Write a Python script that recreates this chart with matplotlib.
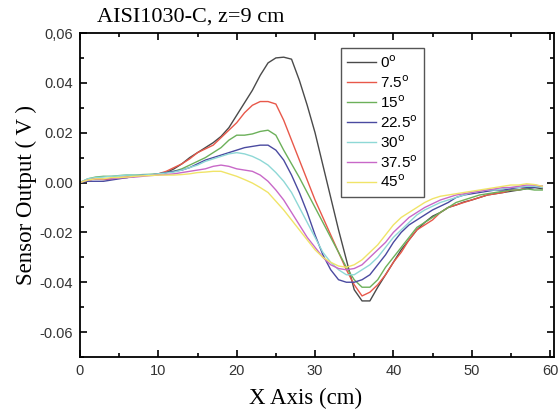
import numpy as np
import matplotlib
matplotlib.use("Agg")
import matplotlib.pyplot as plt
from matplotlib.ticker import MultipleLocator, FixedLocator, FixedFormatter

x_cm = list(range(60))

s0 = [0, 0.001, 0.0015, 0.0015, 0.0015, 0.002, 0.002, 0.0025, 0.003, 0.003,
      0.0032, 0.004, 0.0055, 0.0075, 0.010, 0.012, 0.014, 0.016, 0.0185, 0.022,
      0.027, 0.032, 0.037, 0.043, 0.048, 0.050, 0.0503, 0.0495, 0.041, 0.031,
      0.020, 0.007, -0.006, -0.019, -0.031, -0.043, -0.0475, -0.0475, -0.042, -0.037,
      -0.032, -0.027, -0.023, -0.019, -0.016, -0.0135, -0.012, -0.010, -0.009, -0.0078,
      -0.007, -0.006, -0.005, -0.0045, -0.004, -0.0035, -0.003, -0.0025, -0.002, -0.0025]
s75 = [0, 0.001, 0.0015, 0.0012, 0.0015, 0.002, 0.0022, 0.0025, 0.003, 0.003,
       0.0035, 0.0045, 0.006, 0.0075, 0.0095, 0.012, 0.0135, 0.015, 0.018, 0.021,
       0.024, 0.028, 0.031, 0.0325, 0.0325, 0.0315, 0.025, 0.017, 0.009, 0.001,
       -0.007, -0.014, -0.021, -0.028, -0.035, -0.041, -0.0455, -0.044, -0.041, -0.037,
       -0.032, -0.028, -0.023, -0.019, -0.017, -0.015, -0.012, -0.010, -0.009, -0.008,
       -0.007, -0.006, -0.005, -0.0045, -0.004, -0.003, -0.003, -0.002, -0.0015, -0.002]
s15 = [0, 0.0015, 0.0022, 0.0025, 0.0025, 0.0028, 0.003, 0.003, 0.0032, 0.0033,
       0.0035, 0.004, 0.0045, 0.0055, 0.007, 0.0085, 0.010, 0.012, 0.014, 0.017,
       0.019, 0.019, 0.0195, 0.0205, 0.021, 0.019, 0.013, 0.0075, 0.002, -0.004,
       -0.010, -0.016, -0.022, -0.028, -0.034, -0.039, -0.042, -0.042, -0.039, -0.034,
       -0.030, -0.026, -0.022, -0.018, -0.016, -0.014, -0.012, -0.010, -0.008, -0.007,
       -0.006, -0.005, -0.0045, -0.004, -0.0035, -0.003, -0.003, -0.0025, -0.003, -0.003]
s225 = [0, 0.0005, 0.0005, 0.0005, 0.001, 0.0015, 0.002, 0.0025, 0.003, 0.003,
        0.0035, 0.004, 0.0045, 0.005, 0.006, 0.0075, 0.009, 0.010, 0.011, 0.012,
        0.013, 0.014, 0.0145, 0.015, 0.015, 0.013, 0.009, 0.003, -0.004, -0.012,
        -0.021, -0.029, -0.035, -0.039, -0.040, -0.040, -0.039, -0.037, -0.033, -0.029,
        -0.024, -0.020, -0.017, -0.015, -0.013, -0.011, -0.0095, -0.008, -0.006, -0.005,
        -0.0045, -0.004, -0.0035, -0.003, -0.003, -0.0025, -0.002, -0.002, -0.002, -0.0015]
s30 = [0, 0.0015, 0.002, 0.0022, 0.0025, 0.0027, 0.003, 0.003, 0.003, 0.0032,
       0.0035, 0.0038, 0.0042, 0.005, 0.006, 0.007, 0.0085, 0.0095, 0.0105, 0.0115,
       0.012, 0.0115, 0.0105, 0.009, 0.007, 0.004, 0.0005, -0.004, -0.010, -0.016,
       -0.022, -0.028, -0.032, -0.035, -0.037, -0.037, -0.035, -0.033, -0.030, -0.026,
       -0.022, -0.019, -0.016, -0.013, -0.011, -0.0095, -0.008, -0.007, -0.006, -0.005,
       -0.004, -0.0035, -0.003, -0.003, -0.0025, -0.002, -0.002, -0.0015, -0.0015, -0.002]
s375 = [0, 0.001, 0.0015, 0.0015, 0.0015, 0.0018, 0.002, 0.0022, 0.0025, 0.0028,
        0.003, 0.0032, 0.0035, 0.004, 0.0045, 0.005, 0.0055, 0.0065, 0.007, 0.0065,
        0.0055, 0.005, 0.0045, 0.003, 0.0005, -0.003, -0.007, -0.012, -0.017, -0.022,
        -0.026, -0.030, -0.033, -0.0345, -0.035, -0.0345, -0.033, -0.030, -0.027, -0.024,
        -0.020, -0.017, -0.014, -0.012, -0.010, -0.0085, -0.007, -0.006, -0.005, -0.0045,
        -0.004, -0.0035, -0.003, -0.0025, -0.002, -0.002, -0.0015, -0.001, -0.001, -0.0015]
s45 = [0, 0.001, 0.0015, 0.0015, 0.002, 0.002, 0.0022, 0.0025, 0.0027, 0.0028,
       0.003, 0.003, 0.003, 0.0032, 0.0035, 0.004, 0.0042, 0.0045, 0.0045, 0.0035,
       0.0025, 0.0012, -0.0002, -0.002, -0.004, -0.0075, -0.011, -0.015, -0.019, -0.023,
       -0.027, -0.030, -0.032, -0.0335, -0.034, -0.033, -0.031, -0.028, -0.025, -0.021,
       -0.017, -0.014, -0.012, -0.010, -0.008, -0.0065, -0.0055, -0.005, -0.0045, -0.004,
       -0.0035, -0.003, -0.0025, -0.002, -0.0015, -0.001, -0.001, -0.0005, -0.0008, -0.0015]

labels = [r"0$^{\rm o}$", r"7.5$^{\rm o}$", r"15$^{\rm o}$", r"22.5$^{\rm o}$",
          r"30$^{\rm o}$", r"37.5$^{\rm o}$", r"45$^{\rm o}$"]
series = [s0, s75, s15, s225, s30, s375, s45]
colors = ["#4a4a4a", "#e8584a", "#6cb05a", "#4a4aa0", "#8ed8d6", "#c868c8", "#f0e468"]

ytick_vals = [-0.06, -0.04, -0.02, 0.0, 0.02, 0.04, 0.06]
ytick_labels = ["-0.06", "-0.04", "-0.02", "0.00", "0.02", "0.04", "0,06"]

fig = plt.figure(figsize=(5.6, 4.15), dpi=100)
ax = fig.add_axes([80/560, 1-357/415, 474/560, 324/415])

for ys, c, lab in zip(series, colors, labels):
    ax.plot(x_cm, ys, color=c, lw=1.0, label=lab)

ax.set_xlim(0, 60.5)
ax.set_ylim(-0.07, 0.06)
ax.xaxis.set_major_locator(MultipleLocator(10))
ax.xaxis.set_minor_locator(MultipleLocator(5))
ax.yaxis.set_major_locator(FixedLocator(ytick_vals))
ax.yaxis.set_major_formatter(FixedFormatter(ytick_labels))
ax.yaxis.set_minor_locator(MultipleLocator(0.01))
ax.tick_params(which='both', direction='in', top=True, right=True, width=1.2)
ax.tick_params(which='major', length=5, labelsize=10.5, pad=5)
ax.tick_params(which='minor', length=3)
for lab in ax.get_xticklabels() + ax.get_yticklabels():
    lab.set_family("Liberation Sans")
    lab.set_color("#333333")
for sp in ax.spines.values():
    sp.set_linewidth(1.3)

ax.set_xlabel("X Axis (cm)", family="Liberation Serif", fontsize=16.5, labelpad=4)
ax.xaxis.set_label_coords((306-80)/474, -0.095)
ax.set_ylabel("Sensor Output ( V )", family="Liberation Serif", fontsize=16.5, labelpad=2)
fig.text(97/560, 1-17/415, "AISI1030-C, z=9 cm", family="Liberation Serif",
         fontsize=16, va='center', ha='left')

leg = ax.legend(loc='upper left', bbox_to_anchor=((341-80)/474, (357-48)/324),
                prop={'family': 'Liberation Sans', 'size': 11}, fancybox=False,
                edgecolor='#555555', framealpha=1, handlelength=1.9,
                labelspacing=0.22, borderpad=0.4, handletextpad=0.25,
                borderaxespad=0)
leg.get_frame().set_linewidth(1.0)

fig.savefig("out.png", dpi=100)
